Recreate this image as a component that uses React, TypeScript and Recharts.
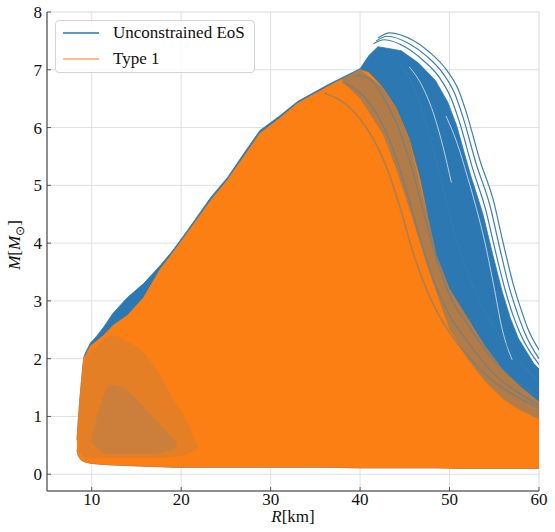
import React from 'react';
import { ComposedChart, Area, Line, XAxis, YAxis, CartesianGrid, Legend, Label } from 'recharts';

// ---- tick labels ----
const xTicks = [10, 20, 30, 40, 50, 60];
const yTicks = [0, 1, 2, 3, 4, 5, 6, 7, 8];
const xMinorTicks = [6, 8, 10, 12, 14, 16, 18, 20, 22, 24, 26, 28, 30, 32, 34, 36, 38, 40, 42, 44, 46, 48, 50, 52, 54, 56, 58, 60];
const yMinorTicks = [-0.2, 0, 0.2, 0.4, 0.6, 0.8, 1, 1.2, 1.4, 1.6, 1.8, 2, 2.2, 2.4, 2.6, 2.8, 3, 3.2, 3.4, 3.6, 3.8, 4, 4.2, 4.4, 4.6, 4.8, 5, 5.2, 5.4, 5.6, 5.8, 6, 6.2, 6.4, 6.6, 6.8, 7, 7.2, 7.4, 7.6, 7.8, 8];

// ---- Unconstrained EoS: envelope of the curve bundle ----
const blueEnvR = [8.35, 8.5, 8.7, 8.9, 9.1, 9.3, 9.85, 10.5, 11.3, 12.4, 14.0, 15.8, 17.7, 19.1, 20.7, 23.3, 25.2, 27.0, 28.8, 31.0, 33.0, 36.5, 40.0, 41.0, 42.0, 44.6, 46.5, 48.4, 49.8, 50.8, 52.3, 53.7, 54.8, 55.9, 56.8, 57.7, 59.4, 60.0];
const blueEnvLow = [0.42, 0.32, 0.27, 0.24, 0.22, 0.21, 0.19, 0.18, 0.17, 0.16, 0.15, 0.14, 0.13, 0.12, 0.12, 0.12, 0.12, 0.12, 0.12, 0.12, 0.12, 0.12, 0.11, 0.11, 0.11, 0.11, 0.11, 0.11, 0.11, 0.1, 0.1, 0.1, 0.1, 0.1, 0.1, 0.1, 0.1, 0.1];
const blueEnvHigh = [0.6, 0.95, 1.35, 1.7, 2.02, 2.1, 2.27, 2.38, 2.54, 2.79, 3.06, 3.3, 3.62, 3.88, 4.22, 4.79, 5.14, 5.55, 5.95, 6.2, 6.45, 6.75, 7.02, 7.25, 7.4, 7.33, 7.12, 6.82, 6.44, 6.03, 5.2, 4.52, 3.82, 3.15, 2.7, 2.35, 1.92, 1.82];

// ---- Unconstrained EoS: outermost individual curves ----
const arc1R = [42.0, 43.3, 45.9, 47.8, 49.7, 51.0, 51.9, 53.4, 54.9, 56.0, 57.1, 58.0, 58.7, 60.0];
const arc1M = [7.55, 7.64, 7.51, 7.3, 6.99, 6.65, 6.25, 5.43, 4.74, 4.0, 3.3, 2.85, 2.54, 2.15];
const arc2R = [41.8, 43.0, 45.5, 47.4, 49.3, 50.6, 51.5, 53.0, 54.5, 55.6, 56.7, 57.6, 58.4, 60.0];
const arc2M = [7.5, 7.58, 7.45, 7.24, 6.93, 6.58, 6.18, 5.36, 4.66, 3.92, 3.22, 2.78, 2.45, 2.0];
const arc3R = [41.5, 42.7, 45.1, 47.0, 48.9, 50.2, 51.1, 52.6, 54.0, 55.1, 56.2, 57.1, 58.0, 60.0];
const arc3M = [7.45, 7.52, 7.39, 7.17, 6.86, 6.5, 6.1, 5.28, 4.6, 3.88, 3.2, 2.75, 2.4, 1.9];

// ---- light gaps between neighbouring Unconstrained curves ----
const gap1R = [49.6, 50.8, 52.0, 53.0, 53.9, 54.9, 55.9, 57.0];
const gap1M = [6.2, 5.75, 5.15, 4.6, 4.05, 3.3, 2.5, 1.98];
const gap2R = [45.5, 47.0, 48.3, 49.3, 50.2];
const gap2M = [7.05, 6.7, 6.2, 5.65, 5.05];

// ---- Unconstrained EoS curves that show through the Type 1 bundle ----
const streak1R = [39.5, 41.0, 42.5, 44.0, 45.5, 47.0, 48.5, 50.0, 52.0, 54.0, 56.0, 58.0, 60.0];
const streak1M = [6.9, 6.85, 6.55, 6.1, 5.45, 4.6, 3.75, 3.1, 2.6, 2.15, 1.8, 1.55, 1.35];
const streak2R = [38.0, 40.0, 42.0, 43.5, 45.0, 46.5, 48.0, 50.0, 52.0, 54.0, 56.0, 58.0, 60.0];
const streak2M = [6.78, 6.6, 6.2, 5.7, 5.0, 4.2, 3.45, 2.75, 2.3, 1.9, 1.6, 1.38, 1.2];
const streak3R = [36.0, 38.0, 40.0, 41.5, 43.0, 44.5, 46.0, 48.0, 50.0, 52.0, 55.0, 58.0, 60.0];
const streak3M = [6.6, 6.45, 6.15, 5.8, 5.3, 4.6, 3.8, 3.0, 2.45, 2.05, 1.6, 1.3, 1.15];
const streak4R = [44.5, 46.0, 47.5, 49.0, 50.5, 52.0, 53.5, 55.0, 57.0, 60.0];
const streak4M = [7.1, 6.7, 6.0, 5.1, 4.2, 3.5, 2.95, 2.55, 2.1, 1.6];

// ---- Type 1: envelope of the curve bundle ----
const orangeR = [8.35, 8.5, 8.7, 8.9, 9.1, 9.3, 9.85, 10.5, 11.3, 12.4, 14.0, 15.8, 17.0, 17.7, 19.1, 20.7, 23.3, 25.2, 27.0, 28.8, 31.0, 33.0, 36.5, 40.0, 41.0, 42.5, 44.0, 45.5, 46.7, 47.5, 48.5, 50.0, 52.0, 54.0, 56.0, 58.0, 60.0];
const orangeLow = [0.42, 0.32, 0.27, 0.24, 0.22, 0.21, 0.19, 0.18, 0.17, 0.16, 0.15, 0.14, 0.13, 0.13, 0.12, 0.12, 0.12, 0.12, 0.12, 0.12, 0.12, 0.12, 0.12, 0.11, 0.11, 0.11, 0.11, 0.11, 0.11, 0.11, 0.11, 0.1, 0.1, 0.1, 0.1, 0.1, 0.1];
const orangeHigh = [0.58, 0.95, 1.35, 1.7, 2.02, 2.05, 2.22, 2.3, 2.4, 2.58, 2.75, 3.06, 3.38, 3.56, 3.84, 4.18, 4.74, 5.1, 5.5, 5.9, 6.16, 6.42, 6.72, 7.0, 6.95, 6.7, 6.35, 5.8, 5.1, 4.5, 3.8, 3.2, 2.7, 2.2, 1.8, 1.5, 1.25];

// ---- faint mixing of the two bundles ----
const mixRightR = [38.0, 40.0, 42.5, 44.0, 45.5, 47.5, 50.0, 52.0, 54.0, 56.0, 58.0, 60.0];
const mixRightLow = [6.8, 6.5, 5.9, 5.3, 4.6, 3.6, 2.5, 2.0, 1.6, 1.3, 1.1, 0.95];
const mixRightHigh = [6.85, 7.0, 6.7, 6.35, 5.8, 4.5, 3.2, 2.7, 2.2, 1.8, 1.5, 1.25];
const mixLeftR = [8.6, 9.3, 10.5, 12.4, 14.0, 15.8, 17.7, 19.1, 20.7, 21.8];
const mixLeftLow = [0.4, 0.3, 0.28, 0.28, 0.28, 0.28, 0.28, 0.3, 0.35, 0.45];
const mixLeftHigh = [1.0, 2.0, 2.2, 2.4, 2.3, 2.1, 1.7, 1.3, 0.9, 0.5];
const mixCoreR = [10.0, 11.0, 12.0, 13.5, 15.0, 16.5, 18.0, 19.5];
const mixCoreLow = [0.55, 0.4, 0.35, 0.35, 0.35, 0.35, 0.38, 0.45];
const mixCoreHigh = [0.65, 1.2, 1.55, 1.5, 1.3, 1.05, 0.8, 0.55];

const legendItems = [
  { label: 'Unconstrained EoS', color: '#1f77b4', opacity: 0.75 },
  { label: 'Type 1', color: '#ff7f0e', opacity: 0.5 },
];

const band = (r: number[], lo: number[], hi: number[]) => r.map((x, i) => ({ r: x, band: [lo[i], hi[i]] }));
const curve = (r: number[], m: number[]) => r.map((x, i) => ({ r: x, m: m[i] }));

const blueEnv = band(blueEnvR, blueEnvLow, blueEnvHigh);
const orangeEnv = band(orangeR, orangeLow, orangeHigh);
const mixRight = band(mixRightR, mixRightLow, mixRightHigh);
const mixLeft = band(mixLeftR, mixLeftLow, mixLeftHigh);
const mixCore = band(mixCoreR, mixCoreLow, mixCoreHigh);
const arcs = [curve(arc1R, arc1M), curve(arc2R, arc2M), curve(arc3R, arc3M)];
const gaps = [curve(gap1R, gap1M), curve(gap2R, gap2M)];
const streaks = [curve(streak1R, streak1M), curve(streak2R, streak2M), curve(streak3R, streak3M), curve(streak4R, streak4M)];

const FONT = '"Liberation Serif", serif';
const BLUE = '#2c78b2';
const ORANGE = '#fb7f12';
const AXIS = { stroke: '#333', strokeWidth: 1 };
const TICKLINE = { stroke: '#333', strokeWidth: 0.8 };

const LegendBox = () => (
  <div
    style={{
      width: 200,
      height: 53,
      boxSizing: 'border-box',
      border: '1px solid #d4d4d4',
      borderRadius: 4,
      background: 'rgba(255,255,255,0.85)',
      position: 'relative',
      fontFamily: FONT,
      fontSize: 17,
      color: '#111',
    }}
  >
    {legendItems.map((it, i) => (
      <div key={it.label} style={{ position: 'absolute', left: 0, top: 2 + i * 26, height: 20, width: 200 }}>
        <div style={{ position: 'absolute', left: 7, top: 9, width: 36, height: 2, background: it.color, opacity: it.opacity }} />
        <div style={{ position: 'absolute', left: 57, top: 0, lineHeight: '20px', whiteSpace: 'nowrap' }}>{it.label}</div>
      </div>
    ))}
  </div>
);

const XLabel = (props: any) => {
  const vb = props.viewBox || { x: 47, y: 491, width: 492, height: 41 };
  return (
    <text x={vb.x + vb.width / 2} y={vb.y + 31} textAnchor="middle" fontFamily={FONT} fontSize={17} fill="#111">
      <tspan fontStyle="italic">R</tspan>
      <tspan>[km]</tspan>
    </text>
  );
};

const YLabel = () => {
  const cx = 20;
  const cy = 245;
  return (
    <text x={cx} y={cy} transform={`rotate(-90, ${cx}, ${cy})`} textAnchor="middle" fontFamily={FONT} fontSize={17} fill="#111">
      <tspan fontStyle="italic">M</tspan>
      <tspan>[</tspan>
      <tspan fontStyle="italic">M</tspan>
      <tspan dy={4} fontSize={12}>⊙</tspan>
      <tspan dy={-4}>]</tspan>
    </text>
  );
};

export default function App() {
  return (
    <div style={{ position: 'absolute', left: 0, top: 0, width: 555, height: 532, background: '#fff' }}>
      <ComposedChart width={555} height={532} margin={{ top: 12, right: 16, bottom: 0, left: 0 }}>
        {/* minor axes: grid + inward minor ticks */}
        <XAxis xAxisId="minor" dataKey="r" type="number" domain={[5, 60]} ticks={xMinorTicks} allowDataOverflow height={0} tick={false} axisLine={false} tickLine={TICKLINE} tickSize={-2} />
        <YAxis yAxisId="minor" type="number" domain={[-0.29, 8]} ticks={yMinorTicks} allowDataOverflow width={0} tick={false} axisLine={false} tickLine={TICKLINE} tickSize={-2} />
        <XAxis xAxisId="minorTop" orientation="top" dataKey="r" type="number" domain={[5, 60]} ticks={xMinorTicks} allowDataOverflow height={0} tick={false} axisLine={false} tickLine={TICKLINE} tickSize={-2} />
        <YAxis yAxisId="minorRight" orientation="right" type="number" domain={[-0.29, 8]} ticks={yMinorTicks} allowDataOverflow width={0} tick={false} axisLine={false} tickLine={TICKLINE} tickSize={-2} />
        <CartesianGrid xAxisId="minor" yAxisId="minor" stroke="#ececec" strokeWidth={0.7} />
        <CartesianGrid stroke="#dcdcdc" strokeWidth={0.9} />
        <XAxis
          dataKey="r"
          type="number"
          domain={[5, 60]}
          ticks={xTicks}
          allowDataOverflow
          height={41}
          tickLine={TICKLINE}
          tickSize={-4}
          tickMargin={6}
          axisLine={AXIS}
          tick={{ fontFamily: FONT, fontSize: 17, fill: '#111' }}
        >
          <Label content={<XLabel />} />
        </XAxis>
        <YAxis
          type="number"
          domain={[-0.29, 8]}
          ticks={yTicks}
          allowDataOverflow
          width={47}
          tickLine={TICKLINE}
          tickSize={-4}
          tickMargin={9}
          axisLine={AXIS}
          tick={{ fontFamily: FONT, fontSize: 17, fill: '#111' }}
        >
          <Label content={<YLabel />} />
        </YAxis>
        <XAxis xAxisId="top" orientation="top" type="number" dataKey="r" domain={[5, 60]} ticks={xTicks} allowDataOverflow height={0} tick={false} tickLine={TICKLINE} tickSize={-4} axisLine={AXIS} />
        <YAxis yAxisId="right" orientation="right" type="number" domain={[-0.29, 8]} ticks={yTicks} allowDataOverflow width={0} tick={false} tickLine={TICKLINE} tickSize={-4} axisLine={AXIS} />

        <Area data={blueEnv} dataKey="band" type="linear" fill={BLUE} fillOpacity={1} stroke={BLUE} strokeWidth={0.8} isAnimationActive={false} legendType="none" />
        {arcs.map((a, i) => (
          <Line key={'a' + i} data={a} dataKey="m" type="monotone" dot={false} stroke="#3d7fb1" strokeWidth={1.2} isAnimationActive={false} legendType="none" />
        ))}
        {gaps.map((a, i) => (
          <Line key={'g' + i} data={a} dataKey="m" type="monotone" dot={false} stroke="#ffffff" strokeOpacity={0.65} strokeWidth={1} isAnimationActive={false} legendType="none" />
        ))}
        <Area data={orangeEnv} dataKey="band" type="linear" fill={ORANGE} fillOpacity={1} stroke={ORANGE} strokeWidth={0.6} isAnimationActive={false} legendType="none" />
        <Area data={mixRight} dataKey="band" type="linear" fill={BLUE} fillOpacity={0.35} stroke="none" isAnimationActive={false} legendType="none" />
        <Area data={mixLeft} dataKey="band" type="monotone" fill="#4a80aa" fillOpacity={0.13} stroke="none" isAnimationActive={false} legendType="none" />
        <Area data={mixCore} dataKey="band" type="monotone" fill="#4a80aa" fillOpacity={0.16} stroke="none" isAnimationActive={false} legendType="none" />
        {streaks.map((a, i) => (
          <Line key={'s' + i} data={a} dataKey="m" type="monotone" dot={false} stroke="#3f7fb0" strokeOpacity={0.4} strokeWidth={1.6} isAnimationActive={false} legendType="none" />
        ))}

        <Legend
          layout="horizontal"
          verticalAlign="middle"
          align="center"
          content={<LegendBox />}
          wrapperStyle={{ position: 'absolute', left: 55, top: 20, width: 200, height: 53 }}
        />
      </ComposedChart>
    </div>
  );
}
